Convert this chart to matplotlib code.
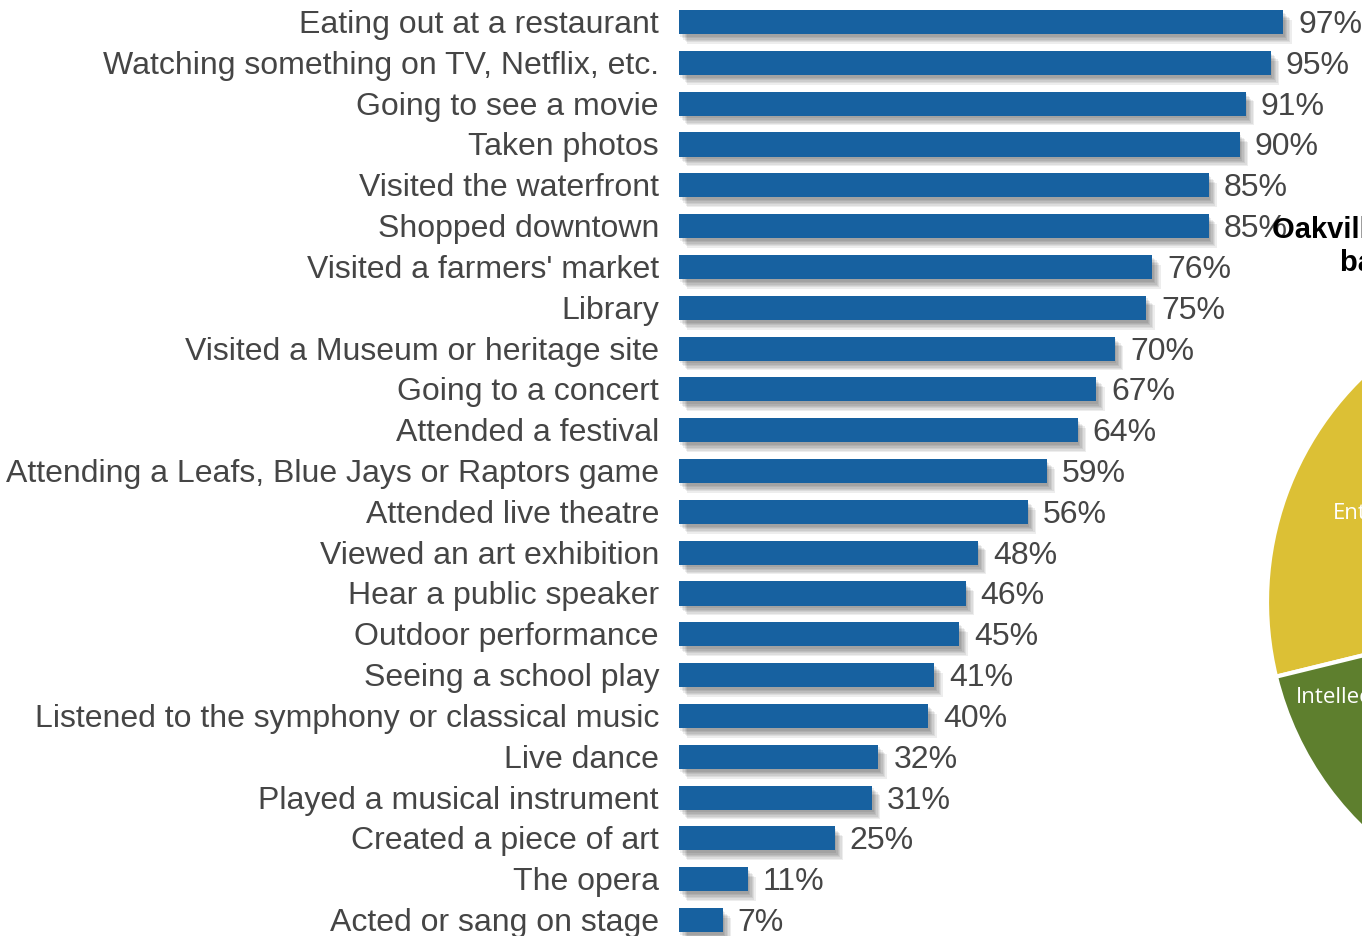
import matplotlib
matplotlib.use("Agg")
import matplotlib.pyplot as plt
import matplotlib.patheffects as pe
import numpy as np

categories = [
    "Eating out at a restaurant",
    "Watching something on TV, Netflix, etc.",
    "Going to see a movie",
    "Taken photos",
    "Visited the waterfront",
    "Shopped downtown",
    "Visited a farmers' market",
    "Library",
    "Visited a Museum or heritage site",
    "Going to a concert",
    "Attended a festival",
    "Attending a Leafs, Blue Jays or Raptors game",
    "Attended live theatre",
    "Viewed an art exhibition",
    "Hear a public speaker",
    "Outdoor performance",
    "Seeing a school play",
    "Listened to the symphony or classical music",
    "Live dance",
    "Played a musical instrument",
    "Created a piece of art",
    "The opera",
    "Acted or sang on stage",
]
values = [97, 95, 91, 90, 85, 85, 76, 75, 70, 67, 64, 59, 56, 48, 46, 45, 41, 40, 32, 31, 25, 11, 7]

pie_labels = ["Entertainment", "Intellectual", "Other A", "Other B"]
pie_values = [18.6, 25.0, 30.0, 26.4]
pie_colors = ["#dcc035", "#5e7f2e", "#3f6fa8", "#a8432f"]

title_lines = ["Oakville residents' arts participation", "based on activity type"]

W, H = 1362, 936
fig = plt.figure(figsize=(W / 100, H / 100), dpi=100)
fig.patch.set_facecolor("white")

# Bar axes
x0 = 679
px_per_pct = 6.23
spacing = 40.82
first_c = 22
ax = fig.add_axes([x0 / W, 0, (px_per_pct * 100) / W, 1])
ax.set_xlim(0, 100)
n = len(categories)
ax.set_ylim((H - first_c) / spacing, -first_c / spacing)
ax.axis("off")

y = np.arange(n)
bars = ax.barh(y, values, height=0.59, color="#1761a0", zorder=3)
shadow = [pe.SimplePatchShadow(offset=(k, -k - 1), shadow_rgbFace="#000000", alpha=0.07)
          for k in (1, 2, 3, 4, 5, 6)]
for b in bars:
    b.set_path_effects(shadow + [pe.Normal()])

font = "Liberation Sans"
tcol = "#454545"
for i, (c, v) in enumerate(zip(categories, values)):
    ax.annotate(c, xy=(0, i), xytext=(-20, -3), textcoords="offset pixels",
                ha="right", va="center", fontsize=23, color=tcol, family=font,
                annotation_clip=False)
    ax.annotate(f"{v}%", xy=(v, i), xytext=(15, -3), textcoords="offset pixels",
                ha="left", va="center", fontsize=23, color=tcol, family=font,
                annotation_clip=False)

# Pie (partially visible)
cx, cy, r = 1581, 602, 314
pax = fig.add_axes([(cx - r) / W, (H - cy - r) / H, 2 * r / W, 2 * r / H])
wedges, _ = pax.pie(pie_values, colors=pie_colors, startangle=126.8, counterclock=True,
                    wedgeprops=dict(edgecolor="white", linewidth=3))
pax.set_xlim(-1, 1)
pax.set_ylim(-1, 1)
pax.set_aspect("auto")
pax.axis("off")
label_pos = [(33.5, 0.84), (4.8, 0.958)]  # (degrees after wedge start, radius fraction)
for w, lab, (dth, rd) in zip(wedges[:2], pie_labels[:2], label_pos):
    th = np.deg2rad(w.theta1 + dth)
    pax.text(rd * np.cos(th), rd * np.sin(th), lab, ha="left", va="center",
             color="white", fontsize=16, family="Open Sans", clip_on=False)

fig.text(1272 / W, 1 - 230 / H, title_lines[0], ha="left", va="center",
         fontsize=21, fontweight="bold", color="black", family=font)
fig.text(1340 / W, 1 - 263 / H, title_lines[1], ha="left", va="center",
         fontsize=21, fontweight="bold", color="black", family=font)

fig.savefig("out.png", dpi=100, facecolor="white")
